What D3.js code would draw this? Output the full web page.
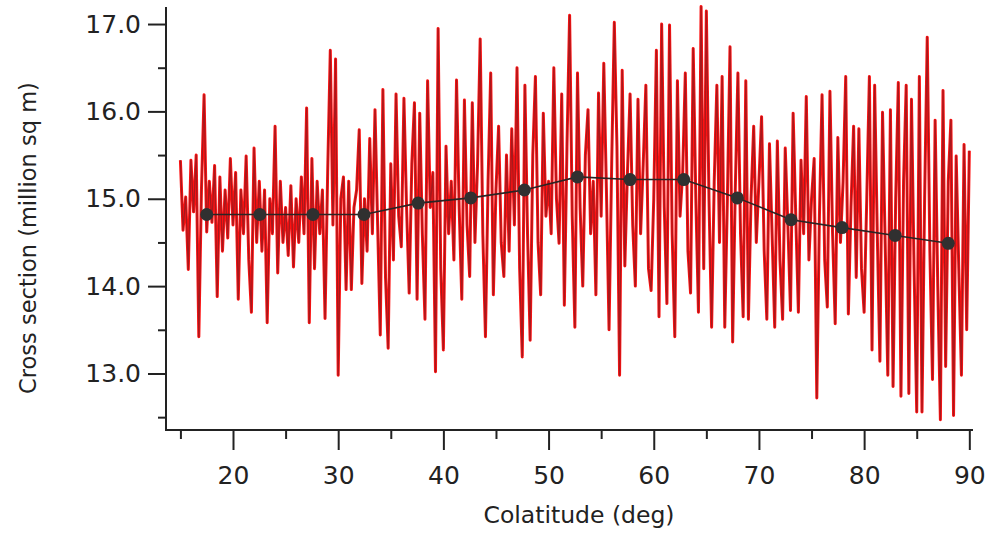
<!DOCTYPE html>
<html>
<head>
<meta charset="utf-8">
<script src="https://cdn.jsdelivr.net/npm/d3@7"></script>
<style>
  html, body { margin: 0; padding: 0; background: #fff; }
  svg { display: block; }
  text { font-family: "DejaVu Sans", Verdana, sans-serif; fill: #222; }
</style>
</head>
<body>
<svg id="chart" width="991" height="533"></svg>
<script>
// ---- data ----
const colatStart = 15;      // first sample, deg
const colatStep = 0.25;     // sample spacing, deg
const crossSection = [
  15.44,14.64,15.02,14.19,15.44,14.85,15.50,13.42,15.10,16.19,14.62,15.20,14.73,15.38,13.88,15.25,14.40,15.10,14.55,15.46,
  14.70,15.30,13.85,15.10,14.60,15.49,14.30,13.70,15.58,14.50,15.20,14.40,15.10,13.58,15.00,14.60,15.83,14.15,15.20,14.50,
  14.90,14.35,15.15,14.22,15.00,14.50,15.25,14.60,16.04,13.58,15.46,14.20,15.20,14.60,15.10,13.63,15.30,16.70,14.70,16.60,
  12.98,15.00,15.25,13.96,15.20,13.96,14.90,15.10,15.79,14.03,15.00,14.40,15.69,14.60,16.02,14.70,13.44,16.25,14.10,13.29,
  15.40,14.30,16.20,14.80,14.45,16.15,14.90,13.92,15.40,16.10,13.85,15.98,14.60,13.62,16.35,14.90,15.30,13.02,16.95,14.20,
  13.27,15.60,14.60,15.20,14.30,16.36,14.90,13.85,16.13,14.70,14.11,16.10,14.50,15.40,16.83,14.60,13.42,15.20,16.44,13.90,
  15.10,15.83,14.50,14.11,15.50,14.40,15.80,14.70,16.50,14.20,13.19,16.30,14.60,13.38,15.50,16.40,14.50,13.90,15.98,14.80,
  15.20,14.60,16.50,15.00,14.49,16.20,13.78,15.60,17.10,14.80,13.53,16.44,14.90,14.00,15.50,16.02,14.60,15.20,13.90,16.21,
  14.80,16.55,15.10,13.50,15.40,17.02,15.60,12.98,16.47,14.23,15.30,16.20,14.70,14.00,16.14,14.60,15.40,16.30,14.20,13.95,
  15.00,16.70,13.65,17.00,14.90,13.80,16.99,14.60,13.42,16.35,14.80,15.30,16.44,14.40,13.92,16.72,15.00,13.70,17.20,14.20,
  17.15,15.00,13.53,15.20,16.30,14.50,16.40,13.53,15.00,16.74,13.36,15.10,16.44,14.60,13.65,16.35,13.62,15.00,15.83,14.50,
  15.20,15.94,14.40,13.62,15.63,14.60,13.53,15.66,14.30,13.62,15.58,14.70,13.72,15.98,14.80,13.70,15.44,14.60,16.17,14.30,
  15.00,15.46,12.72,14.80,16.19,14.30,13.76,16.23,14.60,13.57,15.70,14.50,15.20,16.40,13.68,14.90,15.83,14.10,15.80,14.20,
  13.70,15.00,16.40,13.27,16.30,14.60,13.14,15.99,14.50,12.98,16.02,12.85,15.00,16.33,12.74,15.20,16.30,12.77,16.14,14.20,
  12.56,16.40,12.56,15.00,16.85,14.40,12.93,15.90,14.00,12.47,16.24,13.08,15.20,15.90,12.52,15.49,14.20,12.98,15.62,13.50,
  15.55
];
const binColat = [17.5, 22.55, 27.6, 32.45, 37.6, 42.6, 47.7, 52.75, 57.75, 62.85, 67.95, 73.05, 77.9, 82.95, 88.0];
const binMean  = [14.82, 14.82, 14.82, 14.82, 14.95, 15.01, 15.10, 15.25, 15.22, 15.22, 15.01, 14.76, 14.67, 14.58, 14.49];
const xMajorTicks = [20, 30, 40, 50, 60, 70, 80, 90];
const xMinorTicks = [15, 25, 35, 45, 55, 65, 75, 85];
const yMajorTicks = [13, 14, 15, 16, 17];
const yMinorTicks = [12.5, 13.5, 14.5, 15.5, 16.5];
const xTitle = "Colatitude (deg)";
const yTitle = "Cross section (million sq m)";

// ---- chart ----
(function () {
const svg = d3.select("#chart");
const pL = 166, pR = 973, pT = 7, pB = 430;

const x = d3.scaleLinear().domain([13.63, 90.35]).range([pL, pR]);
const y = d3.scaleLinear().domain([12.353, 17.195]).range([pB, pT]);

const series = crossSection.map((v, i) => ({ c: colatStart + i * colatStep, v }));
const bins = binColat.map((c, i) => ({ c, v: binMean[i] }));

const line = d3.line().x(d => x(d.c)).y(d => y(d.v));

// red noisy trace: bright red body with darker core
svg.append("path").datum(series)
  .attr("d", line).attr("fill", "none")
  .attr("stroke", "#ff1212").attr("stroke-width", 3.0)
  .attr("stroke-linejoin", "round");
svg.append("path").datum(series)
  .attr("d", line).attr("fill", "none")
  .attr("stroke", "#9e1a1e").attr("stroke-width", 1.3)
  .attr("stroke-opacity", 0.9)
  .attr("stroke-linejoin", "round");

// binned mean line + dots
svg.append("path").datum(bins)
  .attr("d", line).attr("fill", "none")
  .attr("stroke", "#2b2424").attr("stroke-width", 1.6);
svg.selectAll("circle.bin").data(bins).enter().append("circle")
  .attr("class", "bin")
  .attr("cx", d => x(d.c)).attr("cy", d => y(d.v)).attr("r", 6.5)
  .attr("fill", "#303030");

// axes
function styleAxis(g) {
  g.selectAll(".domain").remove();
  g.selectAll(".tick line").attr("stroke", "#222").attr("stroke-width", 2);
}
const xAxisMajor = svg.append("g").attr("transform", `translate(0,${pB})`)
  .call(d3.axisBottom(x).tickValues(xMajorTicks).tickSize(20).tickPadding(10).tickFormat(d3.format("d")));
styleAxis(xAxisMajor);
xAxisMajor.selectAll("text").attr("font-size", 25).attr("font-family", "DejaVu Sans").attr("fill", "#222").attr("dy", "0.95em");

const xAxisMinor = svg.append("g").attr("transform", `translate(0,${pB})`)
  .call(d3.axisBottom(x).tickValues(xMinorTicks).tickSize(9).tickFormat(""));
styleAxis(xAxisMinor);

const yAxisMajor = svg.append("g").attr("transform", `translate(${pL},0)`)
  .call(d3.axisLeft(y).tickValues(yMajorTicks).tickSize(18).tickPadding(7).tickFormat(d3.format(".1f")));
styleAxis(yAxisMajor);
yAxisMajor.selectAll("text").attr("font-size", 25).attr("font-family", "DejaVu Sans").attr("fill", "#222");

const yAxisMinor = svg.append("g").attr("transform", `translate(${pL},0)`)
  .call(d3.axisLeft(y).tickValues(yMinorTicks).tickSize(8).tickFormat(""));
styleAxis(yAxisMinor);

// axis lines
svg.append("line").attr("x1", pL).attr("x2", pL).attr("y1", pT).attr("y2", pB + 1)
  .attr("stroke", "#222").attr("stroke-width", 2);
svg.append("line").attr("x1", pL - 1).attr("x2", pR).attr("y1", pB).attr("y2", pB)
  .attr("stroke", "#222").attr("stroke-width", 2);

// titles
svg.append("text").attr("x", 579).attr("y", 523)
  .attr("text-anchor", "middle").attr("font-size", 23.5).text(xTitle);
svg.append("text").attr("transform", "translate(36,238) rotate(-90)")
  .attr("text-anchor", "middle").attr("font-size", 22.5).text(yTitle);
})();
</script>
</body>
</html>
